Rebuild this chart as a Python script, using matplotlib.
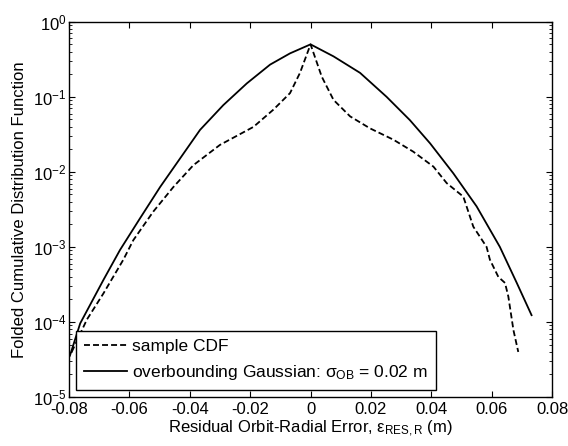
import numpy as np
import matplotlib
matplotlib.use('Agg')
import matplotlib.pyplot as plt

plt.rcParams['font.family'] = ['Liberation Sans', 'DejaVu Sans']
plt.rcParams['mathtext.fontset'] = 'custom'
plt.rcParams['mathtext.rm'] = 'Liberation Sans'
plt.rcParams['mathtext.it'] = 'Liberation Sans'
plt.rcParams['axes.unicode_minus'] = False

# sample CDF (dashed): x in m, log10 of folded CDF
sample_x = [-0.0791, -0.0741, -0.0686, -0.0620, -0.0587, -0.0521, -0.0454, -0.0388,
            -0.0300, -0.0189, -0.0123, -0.0068, -0.0035, 0.0,
            0.0037, 0.0076, 0.0131, 0.0197, 0.0274, 0.0340, 0.0407, 0.0451,
            0.0506, 0.0539, 0.0583, 0.0594, 0.0622, 0.0644, 0.0655, 0.0672, 0.0688]
sample_logy = [-4.40, -3.97, -3.62, -3.17, -2.91, -2.53, -2.20, -1.91,
               -1.64, -1.40, -1.17, -0.95, -0.68, -0.30,
               -0.73, -1.04, -1.26, -1.42, -1.57, -1.73, -1.93, -2.15,
               -2.33, -2.73, -3.00, -3.17, -3.40, -3.48, -3.66, -4.11, -4.40]

# overbounding Gaussian (solid)
gauss_x = [-0.0797, -0.0763, -0.0686, -0.0631, -0.0565, -0.0498, -0.0432, -0.0366,
           -0.0289, -0.0211, -0.0134, -0.0068, 0.0,
           0.0076, 0.0164, 0.0252, 0.0329, 0.0396, 0.0473, 0.0550, 0.0627,
           0.0683, 0.0732]
gauss_logy = [-4.45, -4.02, -3.44, -3.04, -2.62, -2.20, -1.82, -1.44,
              -1.11, -0.82, -0.57, -0.42, -0.30,
              -0.46, -0.68, -1.00, -1.31, -1.62, -2.02, -2.46, -3.00,
              -3.48, -3.91]

xticks = [-0.08, -0.06, -0.04, -0.02, 0, 0.02, 0.04, 0.06, 0.08]
xticklabels = ['-0.08', '-0.06', '-0.04', '-0.02', '0', '0.02', '0.04', '0.06', '0.08']

fig = plt.figure(figsize=(5.68, 4.46), dpi=100)
ax = fig.add_axes([0.1215, 0.110, 0.8505, 0.841])

ax.semilogy(sample_x, 10 ** np.array(sample_logy), 'k--', linewidth=1.3, dashes=(3.3, 1.7),
            label='sample CDF')
ax.semilogy(gauss_x, 10 ** np.array(gauss_logy), 'k-', linewidth=1.3,
            label=r'overbounding Gaussian: $\sigma_{\rm OB}$ = 0.02 m')

ax.set_xlim(-0.08, 0.08)
ax.set_ylim(1e-5, 1)
ax.set_xticks(xticks)
ax.set_xticklabels(xticklabels)
ax.tick_params(which='both', direction='in', top=True, right=True, labelsize=12)
ax.tick_params(which='major', length=4, width=0.8)
ax.tick_params(which='minor', length=2, width=0.6)
ax.tick_params(axis='y', pad=2)
ax.tick_params(axis='x', pad=4)
for s in ax.spines.values():
    s.set_linewidth(1.0)

ax.set_xlabel(r'Residual Orbit-Radial Error, $\varepsilon_{\rm RES,R}$ (m)', fontsize=12, labelpad=1)
ax.set_ylabel('Folded Cumulative Distribution Function', fontsize=12, labelpad=4)

leg = ax.legend(loc='lower left', fontsize=12.5, frameon=True, fancybox=False, framealpha=1,
                edgecolor='black', borderaxespad=0.4, handlelength=2.5,
                handletextpad=0.3, borderpad=0.45, labelspacing=0.55)
leg.get_frame().set_linewidth(1.0)

fig.savefig('out.png', dpi=100)
